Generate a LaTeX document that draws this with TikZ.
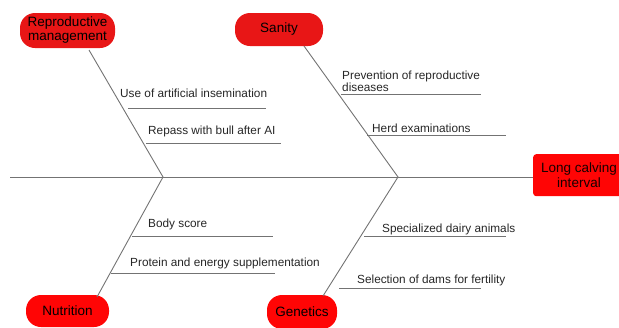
\documentclass[tikz,border=0pt]{standalone}
\usepackage{fontspec}
\setmainfont{Liberation Sans}
\begin{document}
\begin{tikzpicture}[x=1pt,y=-1pt,
  bone/.style={draw=black!55, line width=0.9pt},
  sub/.style={draw=black!55, line width=0.9pt},
  lbl/.style={font=\fontsize{11.8}{12.5}\selectfont, text=black!85, inner sep=0pt, anchor=base west, align=left},
  cat/.style={rounded corners=15pt, fill=topred, text=black, inner sep=0pt, font=\fontsize{13.5}{14}\selectfont, align=center},
  catb/.style={cat, fill=botred}]
\definecolor{topred}{RGB}{232,22,22}
\definecolor{botred}{RGB}{255,5,5}
\useasboundingbox (0,0) rectangle (619,327);
\begin{scope}
\clip (0,0) rectangle (619,327);
% effect box
\node[fill=botred, rounded corners=3pt, minimum width=92pt, minimum height=42pt, inner sep=0pt, anchor=north west] (eff) at (533,154) {};
\node[font=\fontsize{13.5}{15}\selectfont, text=black!90!red, align=center] (efft) at (579,175) {Long calving\\interval};
% category boxes
\node[cat, minimum width=95pt, minimum height=35pt] (rm) at (67.5,30.5) {Reproductive\\management};
\node[cat, minimum width=88pt, minimum height=33pt] (san) at (279,29.5) {Sanity};
\node[catb, minimum width=83pt, minimum height=32pt] (nut) at (67.5,311) {Nutrition};
\node[catb, minimum width=70pt, minimum height=34pt] (gen) at (302,312) {Genetics};
\end{scope}
% spine
\coordinate (tail) at (10,177);
\coordinate (j1) at (163,177);
\coordinate (j2) at (398,177);
\draw[bone] (tail) -- (eff.west |- tail);
% branches
\coordinate (rmE) at (89,50);
\coordinate (sanE) at (304,46);
\coordinate (nutE) at (97,297);
\coordinate (genE) at (323,296);
\draw[bone] (rmE) -- (j1) -- (nutE);
\draw[bone] (sanE) -- (j2) -- (genE);
% sub-branches
\coordinate (a1) at (128,108); \coordinate (a2) at (266,108);
\draw[sub] (a1) -- (a2);
\node[lbl] (ta) at (120,97) {Use of artificial insemination};
\coordinate (b1) at (146,143); \coordinate (b2) at (281,143);
\draw[sub] (b1) -- (b2);
\node[lbl] (tb) at (148,134) {Repass with bull after AI};
\coordinate (c1) at (341,94); \coordinate (c2) at (481,94);
\draw[sub] (c1) -- (c2);
\node[lbl] (tc) at (342,79) {Prevention of reproductive};
\node[lbl] (tc2) at (342,91) {diseases};
\coordinate (d1) at (367,135); \coordinate (d2) at (506,135);
\draw[sub] (d1) -- (d2);
\node[lbl] (td) at (372,132) {Herd examinations};
\coordinate (e1) at (132,236); \coordinate (e2) at (273,236);
\draw[sub] (e1) -- (e2);
\node[lbl] (te) at (148,227) {Body score};
\coordinate (f1) at (111,273); \coordinate (f2) at (275,273);
\draw[sub] (f1) -- (f2);
\node[lbl] (tf) at (130,266) {Protein and energy supplementation};
\coordinate (g1) at (364,236); \coordinate (g2) at (506,236);
\draw[sub] (g1) -- (g2);
\node[lbl] (tg) at (382,232) {Specialized dairy animals};
\coordinate (h1) at (339,288); \coordinate (h2) at (481,288);
\draw[sub] (h1) -- (h2);
\node[lbl] (th) at (357,283) {Selection of dams for fertility};
\end{tikzpicture}
\end{document}
